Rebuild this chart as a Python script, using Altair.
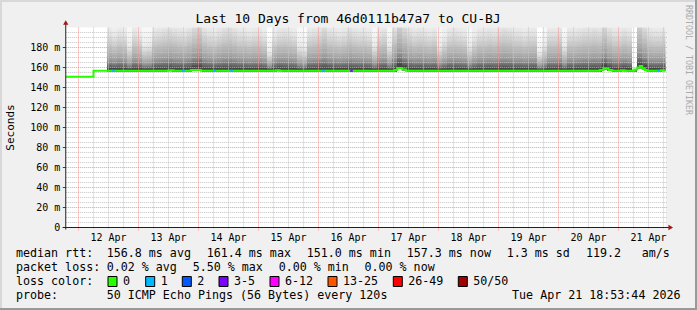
import altair as alt
import pandas as pd

FONT = "DejaVu Sans Mono"

# ---------------- values ----------------
title_text = "Last 10 Days from 46d0111b47a7 to CU-BJ"
y_title = "Seconds"
watermark = "RRDTOOL / TOBI OETIKER"

# x is expressed in hours after 12 Apr 00:00 (window Apr 11 18:54 .. Apr 21 18:54)
X_MIN, X_MAX = -5.1, 234.9
day_label_hours = [12, 36, 60, 84, 108, 132, 156, 180, 204, 228]
day_labels = ["12 Apr", "13 Apr", "14 Apr", "15 Apr", "16 Apr",
              "17 Apr", "18 Apr", "19 Apr", "20 Apr", "21 Apr"]
major_x_hours = [0, 24, 48, 72, 96, 120, 144, 168, 192, 216]
minor_x_hours = [6, 12, 18, 30, 36, 42, 54, 60, 66, 78, 84, 90, 102, 108, 114,
                 126, 132, 138, 150, 156, 162, 174, 180, 186, 198, 204, 210,
                 222, 228, 234]

y_tick_values = [0.0, 0.02, 0.04, 0.06, 0.08, 0.10, 0.12, 0.14, 0.16, 0.18]
y_tick_labels = ["0\u00a0\u00a0", "20 m", "40 m", "60 m", "80 m", "100 m",
                 "120 m", "140 m", "160 m", "180 m"]
y_major_ms = [20, 40, 60, 80, 100, 120, 140, 160, 180]
y_minor_ms = [5, 10, 15, 25, 30, 35, 45, 50, 55, 65, 70, 75, 85, 90, 95,
              105, 110, 115, 125, 130, 135, 145, 150, 155, 165, 170, 175,
              185, 190, 195]

# median rtt (step line), hours / ms
median_hours = [-5.1, 6.0, 36.0, 38.0, 45.0, 49.0, 79.0, 80.5, 126.5, 127.5,
                129.5, 131.0, 208.5, 210.0, 212.0, 213.5, 217.0, 218.5,
                222.5, 223.5, 224.5, 225.5, 226.5, 227.5, 233.0, 234.9]
median_ms = [150.7, 156.7, 157.2, 156.7, 157.6, 156.7, 157.3, 156.7, 157.6,
             159.6, 158.0, 156.7, 157.5, 159.0, 157.6, 156.7, 157.3, 156.7,
             158.0, 160.0, 161.4, 159.0, 157.4, 156.7, 157.3, 157.3]

# points where the median line shows packet loss
loss_hours = [13.5, 41.5, 53.9, 60.7, 97.5, 108.7, 231.5]
loss_class = ["1", "1", "1", "1", "1", "3-5", "1"]

# smoke: 2-hour buckets starting at 12 Apr 11:24, relative spread of the pings
smoke_start_hour = 11.4
smoke_bucket_hours = 2.0
smoke_spread = [
    1.0, 0.9, 1.0, 0.95, 0.62,
    1.0, 0.9, 0.62, 0.65, 1.0,
    1.05, 1.1, 1.15, 1.1, 1.05,
    1.0, 1.1, 1.25, 1.4, 1.1,
    1.0, 0.95, 1.05, 1.15, 1.2,
    1.1, 1.0, 1.0, 0.95, 1.0,
    1.0, 0.9, 0.45, 0.9, 1.0,
    1.05, 1.0, 0.95, 0.62, 0.55,
    1.0, 1.05, 1.1, 1.25, 1.05,
    1.0, 0.95, 1.0, 1.15, 1.05,
    1.0, 1.0, 0.95, 0.62, 1.0,
    1.05, 0.62, 1.15, 1.45, 1.25,
    1.1, 1.0, 1.05, 1.0, 0.95,
    1.0, 0.62, 0.8, 1.0, 1.05,
    1.0, 0.95, 0.62, 0.85, 1.0,
    1.0, 1.05, 1.0, 1.1, 1.15,
    1.1, 1.0, 1.0, 0.95, 1.0,
    1.0, 0.45, 0.65, 1.0, 1.0,
    1.05, 0.62, 1.0, 1.0, 1.05,
    1.1, 1.1, 1.15, 1.1, 1.3,
    1.1, 1.0, 1.0, 1.05, 1.0,
    0.05, 1.45, 1.2, 1.05, 1.0,
    1.0, 1.05,
]
# ping distribution above the median (ms) and the grey weight of each band
smoke_offsets_ms = [3, 4, 5.5, 7, 8.5, 10, 12.5, 15, 17.5, 20, 22.5, 25,
                    27.5, 30, 32.5, 35, 37.5, 40, 42.5, 45, 52, 60, 70, 80]
smoke_alpha = [0.14, 0.13, 0.12, 0.11, 0.07, 0.065, 0.055, 0.05, 0.04, 0.04,
               0.03, 0.03, 0.024, 0.024, 0.022, 0.022, 0.016, 0.016,
               0.011, 0.011, 0.017, 0.017, 0.017, 0.017]

legend_labels = ["0", "1", "2", "3-5", "6-12", "13-25", "26-49", "50/50"]
legend_colors = ["#26ff00", "#00b8ff", "#0059ff", "#7e00ff", "#ff00ff",
                 "#ff5500", "#ff0000", "#a10000"]

row1 = ["median rtt:", "156.8 ms avg", "161.4 ms max", "151.0 ms min",
        "157.3 ms now", "1.3 ms sd", "119.2", "am/s"]
row2 = ["packet loss:", "0.02 % avg", "5.50 % max", "0.00 % min", "0.00 % now"]
row3 = ["loss color:"]
row4 = ["probe:", "50 ICMP Echo Pings (56 Bytes) every 120s"]
date_text = "Tue Apr 21 18:53:44 2026"

# ---------------- layout ----------------
W, H = 600, 200
PAD_L, PAD_T = 65.75, 27.5
TOTAL_W, TOTAL_H = 697, 310
PAD_R = TOTAL_W - PAD_L - W
PAD_B = TOTAL_H - PAD_T - H

row_y = [254, 268, 282, 296]
row1_x = [16, 106.7, 206.7, 306.7, 406.7, 506.7, 586.0, 641.7]
row2_x = [16, 106.7, 192.7, 278.7, 364.5]
row3_x = [16]
row4_x = [16, 106.7]
swatch_x = [108, 145.7, 182.3, 219, 270, 328, 393.3, 458.3]

# ---------------- tables ----------------
def med_at(h):
    v = median_ms[0]
    for hh, mm in zip(median_hours, median_ms):
        if hh <= h:
            v = mm
    return v

smoke_rows = []
for i, s in enumerate(smoke_spread):
    h0 = smoke_start_hour + i * smoke_bucket_hours
    h1 = min(h0 + smoke_bucket_hours, X_MAX)
    m = med_at(h0 + smoke_bucket_hours / 2)
    for off, a in zip(smoke_offsets_ms, smoke_alpha):
        smoke_rows.append({"h0": h0, "h1": h1, "y0": (m - 1.0) / 1000.0,
                           "y1": (m + off * s) / 1000.0, "a": a})
smoke_df = pd.DataFrame(smoke_rows)

med_df = pd.DataFrame({"h": median_hours, "v": [m / 1000.0 for m in median_ms]})
color_of = dict(zip(legend_labels, legend_colors))
loss_df = pd.DataFrame({"h0": loss_hours, "h1": [h + 1.0 for h in loss_hours],
                        "v": [med_at(h) / 1000.0 for h in loss_hours],
                        "c": [color_of[c] for c in loss_class]})

x_scale = alt.Scale(domain=[X_MIN, X_MAX], nice=False, zero=False)
y_scale = alt.Scale(domain=[0, 0.2], nice=False, zero=False)

smoke = alt.Chart(smoke_df).mark_rect(color="#000000", clip=True).encode(
    x=alt.X("h0:Q", scale=x_scale, axis=None), x2="h1:Q",
    y=alt.Y("y0:Q", scale=y_scale, axis=None), y2="y1:Q",
    opacity=alt.Opacity("a:Q", scale=None))

GRID_MINOR = "#c4c4c4"
GRID_MAJOR = "#ff9090"

v_minor = alt.Chart(pd.DataFrame({"h": minor_x_hours})).mark_rule(
    color=GRID_MINOR, strokeDash=[1, 1], strokeWidth=1).encode(
    x=alt.X("h:Q", scale=x_scale, axis=None), y=alt.value(0), y2=alt.value(H + 2))
v_major = alt.Chart(pd.DataFrame({"h": major_x_hours})).mark_rule(
    color=GRID_MAJOR, strokeDash=[1, 1], strokeWidth=1).encode(
    x=alt.X("h:Q", scale=x_scale, axis=None), y=alt.value(0), y2=alt.value(H + 3))
h_minor = alt.Chart(pd.DataFrame({"v": [m / 1000.0 for m in y_minor_ms]})).mark_rule(
    color=GRID_MINOR, strokeDash=[1, 1], strokeWidth=1).encode(
    y=alt.Y("v:Q", scale=y_scale, axis=None), x=alt.value(0), x2=alt.value(W + 2))
h_major = alt.Chart(pd.DataFrame({"v": [m / 1000.0 for m in y_major_ms]})).mark_rule(
    color=GRID_MAJOR, strokeDash=[1, 1], strokeWidth=1).encode(
    y=alt.Y("v:Q", scale=y_scale, axis=None), x=alt.value(0), x2=alt.value(W + 2))
y_ticks = alt.Chart(pd.DataFrame({"v": y_tick_values})).mark_rule(
    color="#404040", strokeWidth=1).encode(
    y=alt.Y("v:Q", scale=y_scale, axis=None), x=alt.value(-3), x2=alt.value(0))

# tick labels placed through the scales
x_labels = alt.Chart(pd.DataFrame({"h": day_label_hours, "t": day_labels})).mark_text(
    align="center", baseline="middle", font=FONT, fontSize=10, color="#000000").encode(
    x=alt.X("h:Q", scale=x_scale, axis=None), y=alt.value(H + 10.8), text="t:N")
y_labels = alt.Chart(pd.DataFrame({"v": y_tick_values, "t": y_tick_labels})).mark_text(
    align="right", baseline="middle", font=FONT, fontSize=10, color="#000000").encode(
    y=alt.Y("v:Q", scale=y_scale, axis=None), x=alt.value(-5.5), text="t:N")

median_line = alt.Chart(med_df).mark_line(
    interpolate="step-after", color="#26ff00", strokeWidth=2, clip=True).encode(
    x=alt.X("h:Q", scale=x_scale, axis=None), y=alt.Y("v:Q", scale=y_scale, axis=None))
loss_marks = alt.Chart(loss_df).mark_rule(strokeWidth=2).encode(
    x=alt.X("h0:Q", scale=x_scale, axis=None), x2="h1:Q",
    y=alt.Y("v:Q", scale=y_scale, axis=None), color=alt.Color("c:N", scale=None))

AXIS_C = "#202020"
ARROW_C = "#a01818"
y_axis_line = alt.Chart(pd.DataFrame({"h": [X_MIN], "a": [0.0], "b": [0.2]})).mark_rule(
    color=AXIS_C, strokeWidth=1, yOffset=2, y2Offset=-4).encode(
    x=alt.X("h:Q", scale=x_scale, axis=None), y=alt.Y("a:Q", scale=y_scale, axis=None), y2="b:Q")
x_axis_line = alt.Chart(pd.DataFrame({"a": [X_MIN], "b": [X_MAX], "v": [0.0]})).mark_rule(
    color=AXIS_C, strokeWidth=1, xOffset=-3, x2Offset=4).encode(
    x=alt.X("a:Q", scale=x_scale, axis=None), x2="b:Q", y=alt.Y("v:Q", scale=y_scale, axis=None))
arrow_up = alt.Chart(pd.DataFrame({"h": [X_MIN], "v": [0.2]})).mark_point(
    shape="triangle-up", filled=True, size=28, color=ARROW_C, opacity=1, yOffset=-5).encode(
    x=alt.X("h:Q", scale=x_scale, axis=None), y=alt.Y("v:Q", scale=y_scale, axis=None))
arrow_right = alt.Chart(pd.DataFrame({"h": [X_MAX], "v": [0.0]})).mark_point(
    shape="triangle-right", filled=True, size=28, color=ARROW_C, opacity=1, xOffset=5).encode(
    x=alt.X("h:Q", scale=x_scale, axis=None), y=alt.Y("v:Q", scale=y_scale, axis=None))

main = alt.layer(smoke, v_minor, h_minor, v_major, h_major, y_ticks,
                 median_line, loss_marks, y_axis_line, x_axis_line,
                 arrow_up, arrow_right, x_labels, y_labels)

# ---------------- decorations (pixel placed) ----------------
def loc_x(v):
    return v - PAD_L

def loc_y(v):
    return v - PAD_T

left_rows = []
for texts, xs, y in [(row1, row1_x, row_y[0]), (row2, row2_x, row_y[1]),
                     (row3, row3_x, row_y[2]), (row4, row4_x, row_y[3])]:
    for t, x in zip(texts, xs):
        left_rows.append({"t": t, "x": loc_x(x), "y": loc_y(y)})
for lab, sx in zip(legend_labels, swatch_x):
    left_rows.append({"t": lab, "x": loc_x(sx + 15), "y": loc_y(row_y[2])})
left_df = pd.DataFrame(left_rows)

legend_text = alt.Chart(left_df).mark_text(
    align="left", baseline="middle", font=FONT, fontSize=11.66, color="#000000").encode(
    x=alt.X("x:Q", scale=None, axis=None), y=alt.Y("y:Q", scale=None, axis=None), text="t:N")
date_mark = alt.Chart(pd.DataFrame({"t": [date_text], "x": [loc_x(680.5)], "y": [loc_y(row_y[3])]})).mark_text(
    align="right", baseline="middle", font=FONT, fontSize=11.66, color="#000000").encode(
    x=alt.X("x:Q", scale=None, axis=None), y=alt.Y("y:Q", scale=None, axis=None), text="t:N")
title_mark = alt.Chart(pd.DataFrame({"t": [title_text], "x": [loc_x(348)], "y": [loc_y(19)]})).mark_text(
    align="center", baseline="middle", font=FONT, fontSize=13, color="#000000").encode(
    x=alt.X("x:Q", scale=None, axis=None), y=alt.Y("y:Q", scale=None, axis=None), text="t:N")
ytitle_mark = alt.Chart(pd.DataFrame({"t": [y_title], "x": [loc_x(10.5)], "y": [loc_y(127.5)]})).mark_text(
    align="center", baseline="middle", font=FONT, fontSize=11, angle=270, color="#000000").encode(
    x=alt.X("x:Q", scale=None, axis=None), y=alt.Y("y:Q", scale=None, axis=None), text="t:N")
wm_mark = alt.Chart(pd.DataFrame({"t": [watermark], "x": [loc_x(687.5)], "y": [loc_y(60)]})).mark_text(
    align="center", baseline="middle", font=FONT, fontSize=8.3, angle=90, color="#aaaaaa").encode(
    x=alt.X("x:Q", scale=None, axis=None), y=alt.Y("y:Q", scale=None, axis=None), text="t:N")

sw_df = pd.DataFrame({"x0": [loc_x(x) for x in swatch_x],
                      "x1": [loc_x(x + 9) for x in swatch_x],
                      "y0": [loc_y(276.5)] * len(swatch_x),
                      "y1": [loc_y(286.5)] * len(swatch_x),
                      "c": legend_colors})
swatches = alt.Chart(sw_df).mark_rect(stroke="#000000", strokeWidth=1).encode(
    x=alt.X("x0:Q", scale=None, axis=None), x2="x1:Q",
    y=alt.Y("y0:Q", scale=None, axis=None), y2="y1:Q",
    color=alt.Color("c:N", scale=None))

frame_df = pd.DataFrame({
    "x0": [loc_x(0), loc_x(0), loc_x(0), loc_x(TOTAL_W - 2)],
    "x1": [loc_x(TOTAL_W), loc_x(2), loc_x(TOTAL_W), loc_x(TOTAL_W)],
    "y0": [loc_y(0), loc_y(0), loc_y(TOTAL_H - 2), loc_y(0)],
    "y1": [loc_y(2), loc_y(TOTAL_H), loc_y(TOTAL_H), loc_y(TOTAL_H)],
    "c": ["#d8d8d8", "#d8d8d8", "#999999", "#999999"],
})
frame = alt.Chart(frame_df).mark_rect().encode(
    x=alt.X("x0:Q", scale=None, axis=None), x2="x1:Q",
    y=alt.Y("y0:Q", scale=None, axis=None), y2="y1:Q",
    color=alt.Color("c:N", scale=None))

deco = alt.layer(frame, legend_text, date_mark, title_mark, ytitle_mark, wm_mark, swatches)

chart = alt.layer(main, deco).resolve_scale(x="independent", y="independent").properties(
    width=W, height=H,
    padding={"left": PAD_L, "top": PAD_T, "right": PAD_R, "bottom": PAD_B},
    autosize=alt.AutoSizeParams(type="none"),
    background="#f0f0f0",
).configure_view(stroke=None, fill="#ffffff")

chart.save("out.html", embed_options={"renderer": "svg", "actions": False})
